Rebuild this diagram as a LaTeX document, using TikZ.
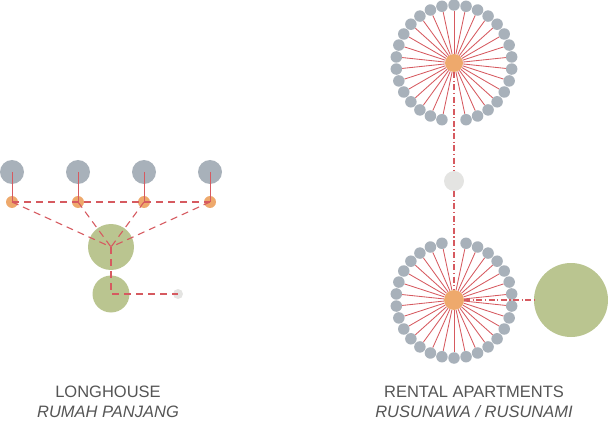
\documentclass[tikz,border=0pt]{standalone}
\usepackage{fontspec}
\setmainfont{Liberation Sans}
\usetikzlibrary{positioning}

\definecolor{slate}{HTML}{A8B1BA}
\definecolor{apricot}{HTML}{EEA96C}
\definecolor{sage}{HTML}{BAC590}
\definecolor{mist}{HTML}{E4E4E2}
\definecolor{brick}{HTML}{D65A60}
\definecolor{ink}{HTML}{555555}

\begin{document}
\begin{tikzpicture}[
  x=1pt,y=-1pt,
  ball/.style={circle, inner sep=0pt, minimum size=#1},
  room/.style={ball=24pt, fill=slate},
  hearth/.style={ball=12pt, fill=apricot},
  hall/.style={ball=#1, fill=sage},
  spot/.style={ball=#1, fill=mist},
  unit/.style={ball=11.5pt, fill=slate},
  hub/.style={ball=#1, fill=apricot},
  solid link/.style={draw=brick, line width=0.85pt},
  dash link/.style={draw=brick, line width=1.1pt, dash pattern=on 7pt off 5pt},
  dot link/.style={draw=brick, line width=1.1pt, dash pattern=on 6pt off 2.5pt on 1.2pt off 2.5pt},
  caption/.style={align=center, text=ink, font=\fontsize{16.5}{20}\selectfont}
]
\useasboundingbox (0,0) rectangle (608,425);

% longhouse
\foreach \i/\x in {1/12,2/78,3/144,4/210}{
  \node[room] (g\i) at (\x,172) {};
  \node[hearth] (o\i) at (\x,202) {};
}
\node[hall=46pt] (c1) at (111,247) {};
\node[hall=37pt] (c2) at (111,294) {};
\node[spot=10pt] (l1) at (178,294) {};
\foreach \i in {1,...,4}{
  \draw[solid link] (g\i.center) -- (o\i.center);
  \draw[dash link] (o\i.center) -- (c1.center);
}
\draw[dash link] (o1.center) -- (o2.center) -- (o3.center) -- (o4.center);
\draw[dash link] (c1.center) -- (c2.center) -- (l1.center);

% rental apartments (y axis points down, so angle 90 is at the bottom)
\node[hub=18pt] (h1) at (454,63) {};
\node[hub=20pt] (h2) at (454,300) {};
\node[spot=20pt] (m1) at (454,181) {};
\node[hall=74pt] (b1) at (571,300) {};
\foreach \k in {1,...,29}{
  \path (h1) ++(90+12*\k:58) node[unit] (t\k) {};
  \draw[solid link] (h1) -- (t\k);
  \path (h2) ++(270+12*\k:58) node[unit] (s\k) {};
  \draw[solid link] (h2) -- (s\k);
}
\draw[dot link] (h1) -- (m1);
\draw[dot link] (m1) -- (h2);
\draw[dot link] (h2) -- (b1);

\node[caption] (lh) at (108,402) {LONGHOUSE\\\textit{RUMAH PANJANG}};
\node[caption] (ra) at (474,402) {RENTAL APARTMENTS\\\textit{RUSUNAWA / RUSUNAMI}};
\end{tikzpicture}
\end{document}
